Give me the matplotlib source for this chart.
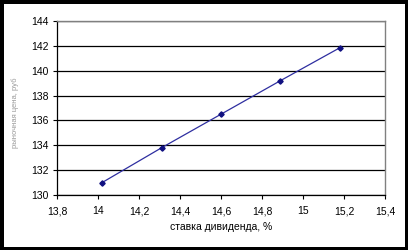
import matplotlib
matplotlib.use("Agg")
import matplotlib.pyplot as plt
from matplotlib.patches import Rectangle

# данные
stavka = [14.02, 14.31, 14.60, 14.89, 15.18]
cena = [131.0, 133.8, 136.5, 139.2, 141.85]
xticks = [13.8, 14.0, 14.2, 14.4, 14.6, 14.8, 15.0, 15.2, 15.4]
xlabels = ["13,8", "14", "14,2", "14,4", "14,6", "14,8", "15", "15,2", "15,4"]
yticks = [130, 132, 134, 136, 138, 140, 142, 144]

plt.rcParams['font.family'] = ['Liberation Sans', 'DejaVu Sans']

fig = plt.figure(figsize=(4.08, 2.5), dpi=100, facecolor="black")
# белое поле внутри чёрной рамки
fig.patches.append(Rectangle((4/408, 3/250), 401/408, 243/250, transform=fig.transFigure,
                             facecolor="white", edgecolor="none", zorder=-10))

ax = fig.add_axes([57/408, 1-195/250, 328/408, 174/250])
ax.set_facecolor("white")
ax.plot(stavka, cena, color="#2e2ea0", lw=0.9, marker="D", ms=2.7, mec="#101080", mfc="#101080", zorder=3)

ax.set_xlim(13.8, 15.4)
ax.set_ylim(130, 144)
ax.set_xticks(xticks)
ax.set_xticklabels(xlabels)
ax.set_yticks(yticks)
ax.yaxis.grid(True, color="black", lw=0.9)
ax.set_axisbelow(True)

for s in ["top", "right"]:
    ax.spines[s].set_color("#808080")
    ax.spines[s].set_linewidth(1.0)
for s in ["left", "bottom"]:
    ax.spines[s].set_color("black")
    ax.spines[s].set_linewidth(0.9)

ax.tick_params(axis="both", direction="out", length=3, width=0.8, labelsize=7.5, colors="black")
ax.tick_params(axis="x", pad=5)
ax.tick_params(axis="y", pad=3)

ax.set_xlabel("ставка дивиденда, %", fontsize=7.5, labelpad=4)
fig.text(15/408, 1-113/250, "рыночная цена, руб", rotation=90, fontsize=5.5, color="#999999",
         ha="center", va="center")

fig.savefig("out.png", dpi=100, facecolor=fig.get_facecolor())
